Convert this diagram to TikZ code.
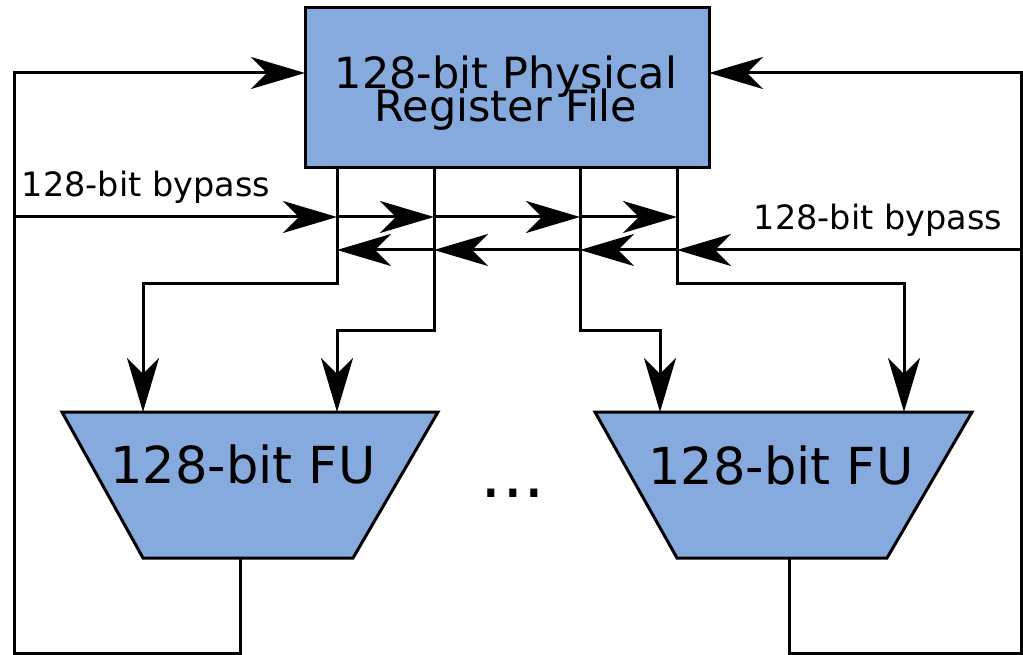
\documentclass[tikz,border=0pt]{standalone}
\usepackage{fontspec}
\setmainfont{DejaVu Sans}
\usetikzlibrary{arrows.meta}
\definecolor{fublue}{RGB}{135,170,222}
\newcommand{\mytightlines}{\lineskiplimit=-100pt\relax\lineskip=0pt\relax}
\tikzset{
  wire/.style={line width=3pt, black},
  arr/.style={wire, -{Stealth[length=54pt, width=32pt, inset=16pt]}},
  blockfill/.style={fill=fublue, draw=black, line width=3pt},
  rftxt/.style={anchor=base, inner sep=0pt, align=center, font=\fontsize{43}{33}\selectfont\mytightlines},
  futxt/.style={anchor=base, inner sep=0pt, font=\fontsize{51}{51}\selectfont},
  bptxt/.style={anchor=base, inner sep=0pt, font=\fontsize{33.5}{33.5}\selectfont},
}
\begin{document}
\begin{tikzpicture}[x=1pt, y=-1pt]
\useasboundingbox (0,0) rectangle (1023,655);
% register file
\node[blockfill, rectangle, minimum width=404pt, minimum height=160pt, inner sep=0pt] (rf) at (507,88) {};
\node[rftxt] (rft) at (506,122) {128-bit Physical\\Register File};
% functional units
\draw[blockfill] (62,412) coordinate (fuA1) -- (438,412) coordinate (fuA2) -- (353,558) coordinate (fuA3) -- (143,558) coordinate (fuA4) -- cycle;
\draw[blockfill] (595,412) coordinate (fuB1) -- (972,412) coordinate (fuB2) -- (887,558) coordinate (fuB3) -- (677,558) coordinate (fuB4) -- cycle;
\node[futxt] (fuAt) at (243,483) {128-bit FU};
\node[futxt] (fuBt) at (781,484) {128-bit FU};
\node[anchor=base, inner sep=0pt, font=\fontsize{68}{68}\selectfont] (dots) at (513,497) {...};
% coordinates
\coordinate (v1t) at (337,168); \coordinate (v2t) at (434,168);
\coordinate (v3t) at (580,168); \coordinate (v4t) at (677,168);
\coordinate (a1) at (337,217); \coordinate (a2) at (434,217);
\coordinate (a3) at (580,217); \coordinate (a4) at (677,217);
\coordinate (b1) at (337,250); \coordinate (b2) at (434,250);
\coordinate (b3) at (580,250); \coordinate (b4) at (677,250);
\coordinate (lin) at (14,217); \coordinate (rin) at (1021,250);
\coordinate (in1) at (143,412); \coordinate (in2) at (337,412);
\coordinate (in3) at (660,412); \coordinate (in4) at (904,412);
\coordinate (oA) at (240,558); \coordinate (oB) at (789,558);
\coordinate (rfL) at (305,73); \coordinate (rfR) at (709,73);
% reg file outputs to FUs
\draw[arr] (v1t) -- (337,283) -| (in1);
\draw[arr] (v2t) -- (434,330) -| (in2);
\draw[arr] (v3t) -- (580,330) -| (in3);
\draw[arr] (v4t) -- (677,283) -| (in4);
% bypass buses
\draw[arr] (lin) -- (a1);
\draw[arr] (a1) -- (a2);
\draw[arr] (a2) -- (a3);
\draw[arr] (a3) -- (a4);
\draw[arr] (rin) -- (b4);
\draw[arr] (b4) -- (b3);
\draw[arr] (b3) -- (b2);
\draw[arr] (b2) -- (b1);
% writeback loops
\draw[arr] (oA) -- (240,653) -- (14,653) -- (14,73) -- (rfL);
\draw[arr] (oB) -- (789,653) -- (1021,653) -- (1021,73) -- (rfR);
% labels
\node[bptxt] (lblL) at (146,197) {128-bit bypass};
\node[bptxt] (lblR) at (878,230) {128-bit bypass};
\end{tikzpicture}
\end{document}
